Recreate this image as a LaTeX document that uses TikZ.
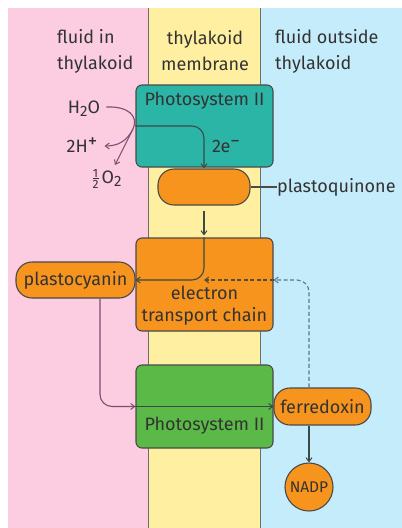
\documentclass[tikz,border=0pt]{standalone}
\usepackage{fontspec}
\setmainfont{Fira Sans}
\usetikzlibrary{arrows.meta,calc}
\definecolor{pinkbg}{HTML}{FCCCE0}
\definecolor{yellowbg}{HTML}{FEF0A0}
\definecolor{bluebg}{HTML}{C5ECFA}
\definecolor{tealbox}{HTML}{2BB5A6}
\definecolor{orangebox}{HTML}{F7941D}
\definecolor{greenbox}{HTML}{5BB947}
\definecolor{txt}{HTML}{333333}
\definecolor{edge}{HTML}{4A4A4A}
\definecolor{mauve}{HTML}{7A5070}
\definecolor{darkline}{HTML}{3A4A48}
\definecolor{dashcol}{HTML}{5A7888}
\newcommand{\mysup}[1]{\raisebox{4.5pt}{\fontsize{19}{19}\selectfont #1}}
\newcommand{\mysub}[1]{\raisebox{-3pt}{\fontsize{15}{15}\selectfont #1}}
\newcommand{\myhalf}{\raisebox{-5pt}{\fontsize{12}{12}\selectfont\shortstack{1\\[-2pt]\rule{6pt}{0.8pt}\\[-1pt]2}}}
\tikzset{
  lbl/.style={text=txt, font=\fontsize{18}{26}\selectfont, inner sep=0pt, align=center},
  lbll/.style={lbl, align=left, anchor=west},
  box/.style={draw=edge, line width=1.1pt, rounded corners=6pt, inner sep=0pt},
  pill/.style={box, rounded corners=16pt, fill=orangebox, text=txt, font=\fontsize{18}{22}\selectfont},
  tip/.style={-{Straight Barb[length=4pt,width=6pt,line width=1pt]}},
  arr/.style={tip, line width=1.1pt, draw=darkline},
  marr/.style={tip, line width=1.1pt, draw=mauve},
}
\begin{document}
\begin{tikzpicture}[x=1pt,y=-1pt]
\useasboundingbox (0,0) rectangle (402,528);
% backgrounds
\fill[pinkbg] (8,8) rectangle (148,528);
\fill[yellowbg] (148,8) rectangle (260,528);
\fill[bluebg] (260,8) rectangle (402,528);
\draw[edge!80, line width=1pt] (148,8) -- (148,528);
\draw[edge!80, line width=1pt] (260,8) -- (260,528);
% column headings
\node[lbll] (h1) at (57,51) {fluid in\\thylakoid};
\node[lbl] (h2) at (205,51) {thylakoid\\membrane};
\node[lbll] (h3) at (275,51) {fluid outside\\thylakoid};
% boxes
\node[box, fill=tealbox, minimum width=137pt, minimum height=82pt] (ps1) at (204.5,126) {};
\node[lbl] (ps1t) at (204.5,101) {Photosystem II};
\node[pill, minimum width=92pt, minimum height=36pt] (pq) at (204,187) {};
\node[lbll] (pql) at (277,187) {plastoquinone};
\node[box, fill=orangebox, minimum width=137pt, minimum height=93pt] (etc) at (204.5,284.5) {};
\node[lbl] (etct) at (204.5,306) {electron\\[-4pt]transport chain};
\node[pill, minimum width=119pt, minimum height=36pt] (pc) at (75.5,280) {plastocyanin};
\node[box, fill=greenbox, minimum width=137pt, minimum height=83pt] (ps2) at (204.5,406.5) {};
\node[lbl] (ps2t) at (204.5,426) {Photosystem II};
\node[pill, minimum width=97pt, minimum height=37pt] (fd) at (322.5,406.5) {ferredoxin};
\node[box, circle, fill=orangebox, minimum size=48pt, font=\fontsize{15.5}{17}\selectfont, text=txt] (nadp) at (309,487) {NADP};
% water splitting
\node[lbl] (h2o) at (84,109) {H\mysub{2}O};
\node[lbl] (hp) at (82,145) {2H\mysup{+}};
\node[lbl] (o2) at (107,179) {\myhalf\,O\mysub{2}};
\node[lbl] (e2) at (226,146) {2e\mysup{−}};
\coordinate (fork) at (133,129);
\draw[mauve, line width=1.1pt] ($(h2o.east)+(6,-2)$) .. controls (128,106) and (139,116) .. (fork);
\draw[marr] (fork) .. controls (127,141) and (118,146) .. ($(hp.east)+(7,1)$);
\draw[marr] (fork) -- (115,165);
\draw[arr, rounded corners=12pt] (ps1.west) -| (pq.north);
% plastoquinone
\draw[edge, line width=1.1pt] (pq.east) -- (pql.west);
\draw[arr, shorten <=5pt, shorten >=2pt] (pq.south) -- (pq.south |- etc.north);
\draw[arr, rounded corners=12pt] (pq.south |- etc.north) |- (pc.east);
% dashed return from ferredoxin
\coordinate (dtop) at ($(fd.north)+(-13.5,0)$);
\coordinate (etcr) at (etc.east |- pc.east);
\draw[tip, dashed, dash pattern=on 4pt off 2.5pt, line width=1.1pt, draw=dashcol, rounded corners=12pt] (dtop) |- (etcr);
\draw[tip, dashed, dash pattern=on 4pt off 2.5pt, line width=1.1pt, draw=dashcol!70!orangebox!60!black] (etcr) -- (pq.south |- pc.east);
% plastocyanin to photosystem
\coordinate (pcb) at ($(pc.south)+(24.5,0)$);
\draw[marr, rounded corners=12pt] (pcb) |- (ps2.west);
\draw[arr] (ps2.west) -- (fd.west);
\draw[arr] (nadp.north |- fd.south) -- (nadp.north);
\end{tikzpicture}
\end{document}
